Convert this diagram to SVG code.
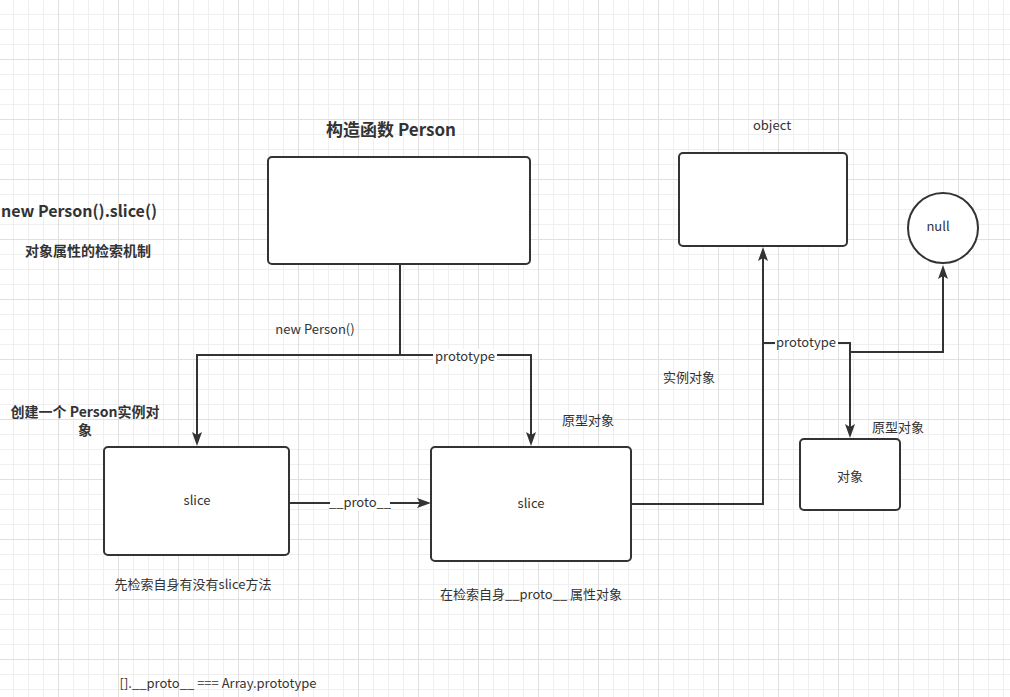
<svg xmlns="http://www.w3.org/2000/svg" width="1010" height="697" viewBox="0 0 1010 697">
<defs>
<pattern id="grid" patternUnits="userSpaceOnUse" x="-2" y="-1" width="60" height="60">
<rect x="15" y="0" width="1" height="60" fill="#efefef"/>
<rect x="30" y="0" width="1" height="60" fill="#efefef"/>
<rect x="45" y="0" width="1" height="60" fill="#efefef"/>
<rect x="0" y="15" width="60" height="1" fill="#efefef"/>
<rect x="0" y="30" width="60" height="1" fill="#efefef"/>
<rect x="0" y="45" width="60" height="1" fill="#efefef"/>
<rect x="0" y="0" width="1" height="60" fill="#e0e0e0"/>
<rect x="0" y="0" width="60" height="1" fill="#e0e0e0"/>
</pattern>
<marker id="arr" markerUnits="userSpaceOnUse" markerWidth="14" markerHeight="10" refX="8" refY="5" orient="auto" overflow="visible">
<path d="M0,0 L14,5 L0,10 L3,5 Z" fill="#333"/>
</marker>
<style>
.box{fill:#fff;stroke:#333;stroke-width:2}
.edge{fill:none;stroke:#333;stroke-width:2}
.t{font-family:"Noto Sans CJK SC","Noto Sans",sans-serif;font-size:13px;fill:#333;text-anchor:middle}
.b{font-weight:bold;font-size:14px}
.h{font-weight:bold;font-size:17px}
.lbl{fill:#fff}
</style>
</defs>
<rect width="1010" height="697" fill="#fff"/>
<rect width="1010" height="697" fill="url(#grid)"/>

<g id="texts">
<text class="t h" x="1" y="217" style="text-anchor:start;font-size:16px">new Person().slice()</text>
<text class="t b" x="88" y="256">对象属性的检索机制</text>
<text class="t b" x="85" y="417">创建一个 Person实例对</text>
<text class="t b" x="85" y="435">象</text>
<text class="t" x="193" y="589">先检索自身有没有slice方法</text>
<text class="t" x="531" y="599">在检索自身__proto__ 属性对象</text>
<text class="t" x="588" y="425">原型对象</text>
<text class="t" x="689" y="382">实例对象</text>
<text class="t" x="898" y="432">原型对象</text>
<text class="t" x="315" y="334">new Person()</text>
<text class="t" x="218" y="688">[].__proto__ === Array.prototype</text>
</g>

<g id="connectors">
<path class="edge" d="M400,264 V355 H197 V440" marker-end="url(#arr)"/>
<path class="edge" d="M400,264 V355 H531 V440" marker-end="url(#arr)"/>
<path class="edge" d="M289,503 H425" marker-end="url(#arr)"/>
<path class="edge" d="M631,504 H763 V253" marker-end="url(#arr)"/>
<path class="edge" d="M763,343 H850 V432" marker-end="url(#arr)"/>
<path class="edge" d="M850,352 H943 V271" marker-end="url(#arr)"/>
<rect class="lbl" x="433" y="349" width="64" height="15"/>
<text class="t" x="465" y="361">prototype</text>
<rect class="lbl" x="330" y="496" width="60" height="15"/>
<text class="t" x="360" y="507">__proto__</text>
<rect class="lbl" x="775" y="336" width="63" height="15"/>
<text class="t" x="806" y="347">prototype</text>
</g>

<g id="person">
<rect class="box" x="268" y="157" width="262" height="107" rx="4"/>
<text class="t h" x="391" y="136">构造函数 Person</text>
</g>

<g id="slice1">
<rect class="box" x="104" y="447" width="185" height="108" rx="4"/>
<text class="t" x="197" y="505">slice</text>
</g>

<g id="slice2">
<rect class="box" x="431" y="447" width="200" height="114" rx="4"/>
<text class="t" x="531" y="508">slice</text>
</g>

<g id="object">
<rect class="box" x="679" y="153" width="168" height="93" rx="4"/>
<text class="t" x="772" y="130">object</text>
</g>

<g id="null">
<circle class="box" cx="943" cy="228" r="35"/>
<text class="t" x="938" y="231">null</text>
</g>

<g id="duixiang">
<rect class="box" x="800" y="439" width="100" height="71" rx="4"/>
<text class="t" x="850" y="481">对象</text>
</g>
</svg>
